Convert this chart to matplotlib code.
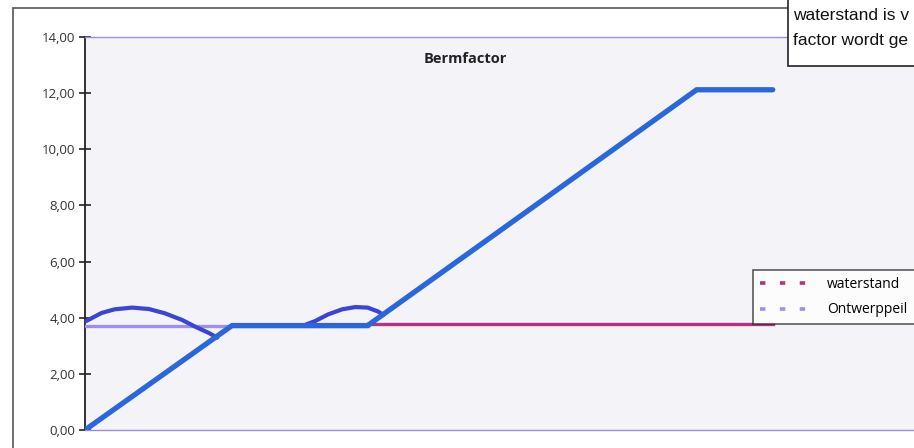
import numpy as np
import matplotlib.pyplot as plt
from matplotlib.patches import Rectangle

# main berm line (x in arbitrary distance units)
berm_x = [0, 16.8, 32.3, 69.9, 78.6]
berm_y = [0.0, 3.72, 3.72, 12.12, 12.12]

# wave arcs above the water line
arc1_x = [0, 1.9, 3.4, 5.4, 7.3, 9.1, 11.1, 12.6, 14.2, 15.1]
arc1_y = [3.86, 4.17, 4.30, 4.36, 4.31, 4.16, 3.92, 3.68, 3.45, 3.29]
arc2_x = [25.1, 26.3, 27.8, 29.4, 30.9, 32.3, 33.5, 34.1]
arc2_y = [3.74, 3.88, 4.12, 4.30, 4.38, 4.36, 4.22, 4.10]

# water levels
waterstand_x = [32.3, 78.6]
waterstand_y = [3.76, 3.76]
ontwerppeil_x = [0, 32.3]
ontwerppeil_y = [3.72, 3.72]

yticks = [0, 2, 4, 6, 8, 10, 12, 14]

W, H = 914, 448
fig = plt.figure(figsize=(W / 100, H / 100), dpi=100)
fig.patch.set_facecolor('white')

ax = fig.add_axes([85 / W, 1 - 430 / H, 875 / W, 393 / H])
ax.set_facecolor('#f4f3f7')

ax.plot(waterstand_x, waterstand_y, color='#b3337f', lw=2.4, zorder=2)
ax.plot(ontwerppeil_x, ontwerppeil_y, color='#9d8ff0', lw=2.4, zorder=3)
ax.plot(arc1_x, arc1_y, color='#3b45d4', lw=3.0, solid_capstyle='round',
        solid_joinstyle='round', zorder=4)
ax.plot(arc2_x, arc2_y, color='#3b45d4', lw=3.0, solid_capstyle='round',
        solid_joinstyle='round', zorder=4)
ax.plot(berm_x, berm_y, color='#2a66dc', lw=3.8, solid_capstyle='round', zorder=5)

# legend handles (dashed)
h1, = ax.plot([], [], color='#b3337f', lw=2.6, ls=(0, (1.5, 4.0)), label='waterstand')
h2, = ax.plot([], [], color='#9d8ff0', lw=2.6, ls=(0, (1.5, 4.0)), label='Ontwerppeil')
leg = ax.legend(handles=[h1, h2], loc='upper left', bbox_to_anchor=(753 / W, 1 - 270 / H),
                bbox_transform=fig.transFigure, frameon=True, fancybox=False,
                handlelength=4.1, handletextpad=0.75, borderpad=0.5, borderaxespad=0,
                labelspacing=0.75, prop={'family': 'Open Sans', 'size': 10})
leg.get_frame().set_edgecolor('#222222')
leg.get_frame().set_linewidth(1.1)
leg.get_frame().set_facecolor('white')

ax.set_xlim(0, 100)
ax.set_ylim(0, 14)
ax.set_yticks(yticks)
ax.set_yticklabels([f'{v:.2f}'.replace('.', ',') for v in yticks],
                   family='Open Sans', fontsize=9.5, color='#333333')
ax.tick_params(axis='y', direction='inout', length=8, width=1.2, color='#222222', pad=3)
ax.set_xticks([])

ax.spines['left'].set_color('#222222')
ax.spines['left'].set_linewidth(1.3)
for s in ['top', 'bottom']:
    ax.spines[s].set_color('#9a8fd6')
    ax.spines[s].set_linewidth(1.0)
ax.spines['right'].set_visible(False)

ax.text(0.435, 0.962, 'Bermfactor', transform=ax.transAxes, ha='center', va='top',
        fontsize=10.5, fontweight='bold', family='Open Sans', color='#222222')

# outer chart border
fig.add_artist(Rectangle((13 / W, -0.1), 1.2, 1 - 8 / H + 0.1, transform=fig.transFigure,
                         fill=False, edgecolor='#555555', lw=1.2, zorder=0))

# note box in the top right corner, partly cut off
fig.add_artist(Rectangle((788 / W, 1 - 66 / H), 0.3, 0.3, transform=fig.transFigure,
                         facecolor='white', edgecolor='#222222', lw=1.2, zorder=10))
fig.text(793 / W, 1 - 15 / H, 'waterstand is v', fontsize=12.5, family='Liberation Sans',
         va='center', ha='left', color='#111111', zorder=11)
fig.text(793 / W, 1 - 40 / H, 'factor wordt ge', fontsize=12.5, family='Liberation Sans',
         va='center', ha='left', color='#111111', zorder=11)

fig.savefig('out.png', dpi=100)
